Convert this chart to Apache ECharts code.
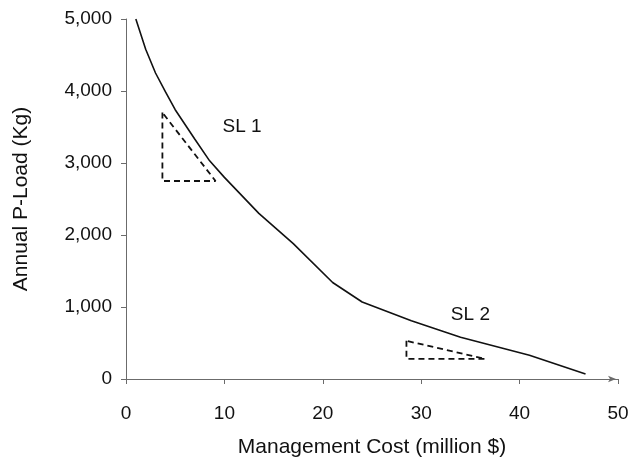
<!DOCTYPE html>
<html>
<head>
<meta charset="utf-8">
<script src="https://cdn.jsdelivr.net/npm/echarts@6/dist/echarts.min.js"></script>
<style>
  html, body { margin: 0; padding: 0; background: #ffffff; }
  #chart { width: 632px; height: 466px; }
</style>
</head>
<body>
<div id="chart"></div>
<script>
// Trade-off curve: management cost (million $) vs annual P-load (kg)
const costValues = [1, 2, 3, 4, 5, 7, 8.5, 10, 13.5, 17, 21, 24, 29, 34, 41, 46.7];
const loadValues = [5000, 4580, 4250, 3990, 3740, 3330, 3030, 2800, 2300, 1880, 1340, 1070, 810, 580, 330, 70];

// Dashed slope triangles (closed outlines)
const sl1Cost = [3.7, 3.7, 9.1, 3.7];
const sl1Load = [3700, 2750, 2750, 3700];
const sl2Cost = [28.5, 28.5, 36.5, 28.5];
const sl2Load = [530, 280, 280, 530];

// Slope labels
const slopeLabels = ['SL 1', 'SL 2'];
const slopeLabelCost = [11.8, 35.0];
const slopeLabelLoad = [3500, 890];

const xTicks = [0, 10, 20, 30, 40, 50];
const yTicks = [0, 1000, 2000, 3000, 4000, 5000];

const pairs = (xs, ys) => xs.map((x, i) => [x, ys[i]]);

const textColor = '#111111';
const axisColor = '#6b6b6b';
const fontFamily = '"Liberation Sans", Arial, sans-serif';

const chart = echarts.init(document.getElementById('chart'), null, { renderer: 'canvas' });

chart.setOption({
  backgroundColor: '#ffffff',
  animation: false,
  grid: {
    left: 126, right: 14, top: 19, bottom: 87,
    containLabel: false,
    outerBoundsMode: 'none'
  },
  xAxis: {
    type: 'value',
    min: xTicks[0],
    max: xTicks[xTicks.length - 1],
    interval: 10,
    name: 'Management Cost (million $)',
    nameLocation: 'middle',
    nameGap: 58,
    nameTextStyle: { fontFamily, fontSize: 21, color: textColor },
    axisLine: {
      show: true,
      lineStyle: { color: axisColor, width: 1 },
      symbol: ['none', 'arrow'],
      symbolSize: [5, 8],
      symbolOffset: [0, -2]
    },
    axisTick: { show: true, length: 5, lineStyle: { color: axisColor } },
    axisLabel: { fontFamily, fontSize: 19, color: textColor, margin: 25 },
    splitLine: { show: false }
  },
  yAxis: {
    type: 'value',
    min: yTicks[0],
    max: yTicks[yTicks.length - 1],
    interval: 1000,
    name: 'Annual P-Load (Kg)',
    nameLocation: 'middle',
    nameGap: 94,
    nameTextStyle: { fontFamily, fontSize: 21, color: textColor },
    axisLine: { show: true, lineStyle: { color: axisColor, width: 1 } },
    axisTick: { show: true, length: 5, lineStyle: { color: axisColor } },
    axisLabel: {
      fontFamily, fontSize: 19, color: textColor, margin: 14,
      formatter: v => v.toLocaleString('en-US')
    },
    splitLine: { show: false }
  },
  series: [
    {
      name: 'Trade-off',
      type: 'line',
      data: pairs(costValues, loadValues),
      symbol: 'none',
      smooth: false,
      lineStyle: { color: '#111111', width: 1.6 }
    },
    {
      name: 'SL 1 triangle',
      type: 'line',
      data: pairs(sl1Cost, sl1Load),
      symbol: 'none',
      lineStyle: { color: '#111111', width: 1.8, type: [6, 4] }
    },
    {
      name: 'SL 2 triangle',
      type: 'line',
      data: pairs(sl2Cost, sl2Load),
      symbol: 'none',
      lineStyle: { color: '#111111', width: 1.8, type: [6, 4] }
    },
    {
      name: 'Slope labels',
      type: 'scatter',
      symbolSize: 1,
      itemStyle: { color: '#ffffff', opacity: 1 },
      data: slopeLabels.map((t, i) => [slopeLabelCost[i], slopeLabelLoad[i], t]),
      label: {
        show: true,
        position: 'inside',
        formatter: p => p.value[2],
        fontFamily, fontSize: 19, color: textColor,
        opacity: 1,
        textBorderWidth: 0
      }
    }
  ]
});
</script>
</body>
</html>
